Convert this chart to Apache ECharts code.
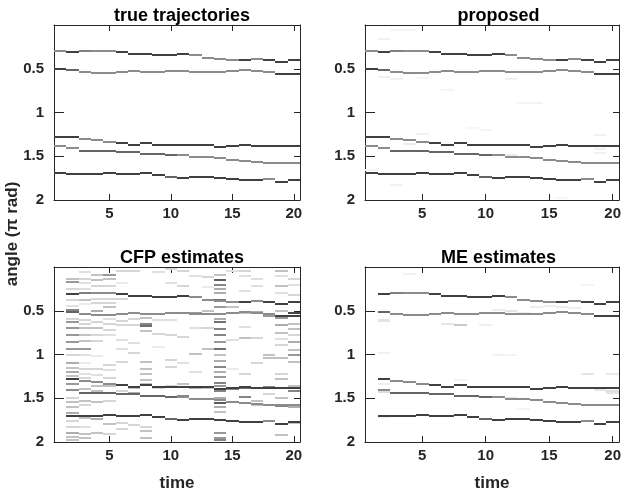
<!DOCTYPE html>
<html style="height: 100%">
<head>
    <meta charset="utf-8">
</head>
<body style="height: 100%; margin: 0; background: #fff">
    <div id="container" style="width: 624px; height: 497px"></div>
    <script type="text/javascript" src="https://cdn.jsdelivr.net/npm/echarts@6.0.0/dist/echarts.min.js"></script>
    <script type="text/javascript">
        // time steps and angle bins (pi rad)
        var timeTicks = [5, 10, 15, 20];
        var binH = 0.018;

        // true trajectories, angle per time step 1..20
        var trajA = [0.292, 0.307, 0.300, 0.289, 0.289, 0.307, 0.330, 0.330, 0.338, 0.338, 0.330, 0.346, 0.369, 0.384, 0.395, 0.403, 0.391, 0.399, 0.418, 0.403];
        var trajB = [0.498, 0.510, 0.533, 0.544, 0.544, 0.533, 0.518, 0.533, 0.533, 0.518, 0.518, 0.533, 0.533, 0.533, 0.520, 0.510, 0.520, 0.536, 0.560, 0.560];
        var trajC = [1.281, 1.274, 1.300, 1.312, 1.331, 1.349, 1.365, 1.349, 1.365, 1.365, 1.365, 1.373, 1.373, 1.388, 1.381, 1.373, 1.377, 1.377, 1.377, 1.377];
        var trajD = [1.384, 1.407, 1.434, 1.434, 1.434, 1.449, 1.449, 1.472, 1.472, 1.480, 1.483, 1.503, 1.503, 1.518, 1.541, 1.552, 1.560, 1.571, 1.578, 1.578];
        var trajE = [1.693, 1.701, 1.701, 1.701, 1.693, 1.701, 1.701, 1.693, 1.712, 1.732, 1.743, 1.732, 1.732, 1.751, 1.762, 1.770, 1.770, 1.762, 1.789, 1.770];

        // cell darkness along each trajectory
        var shadeA = [.45, .75, .5, .45, .45, .75, .75, .75, .75, .75, .75, .45, .45, .45, .45, .75, .45, .75, .75, .75];
        var shadeB = [.75, .6, .45, .45, .45, .45, .45, .45, .45, .45, .45, .45, .45, .45, .45, .45, .45, .45, .75, .75];
        var shadeC = [.75, .75, .45, .45, .45, .75, .75, .75, .75, .75, .75, .75, .75, .75, .75, .75, .75, .75, .75, .75];
        var shadeD = [.45, .45, .6, .6, .6, .6, .6, .6, .6, .6, .45, .45, .45, .45, .45, .45, .45, .45, .45, .45];
        var shadeE = [.75, .75, .75, .75, .75, .75, .75, .75, .75, .6, .75, .75, .75, .75, .75, .75, .75, .45, .75, .75];

        // faint extra cells [time, angle, value]
        var propNoise = [[2, 0.16, .05], [3, 0.06, .04], [4, 0.06, .04], [2, 0.59, .06], [3, 0.62, .05], [5, 0.6, .04],
            [7, 0.74, .04], [12, 0.62, .05], [13, 0.89, .04], [14, 0.89, .05], [10, 1.2, .04], [5, 1.24, .05],
            [6, 1.35, .15], [4, 1.36, .08], [12, 1.48, .08], [19, 1.26, .05], [19, 1.42, .06], [19, 1.46, .05],
            [3, 1.83, .05], [1, 1.66, .04], [16, 1.98, .03], [9, 1.18, .03]];

        var cfpNoise = [
            [2, 0.13, .3], [2, 0.17, .5], [2, 0.25, .2], [2, 0.37, .2], [2, 0.44, .15], [2, 0.49, .6], [2, 0.59, .2], [2, 0.63, .5],
            [2, 0.69, .5], [2, 0.78, .5], [2, 0.85, .5], [2, 0.93, .5], [2, 1.0, .2], [2, 1.09, .4], [2, 1.15, .3], [2, 1.2, .4],
            [2, 1.24, .3], [2, 1.33, .5], [2, 1.4, .5], [2, 1.49, .2], [2, 1.54, .3], [2, 1.6, .3], [2, 1.67, .4], [2, 1.76, .2],
            [2, 1.83, .2], [2, 1.9, .4], [2, 1.94, .3], [2, 1.98, .3],
            [3, 0.06, .15], [3, 0.13, .2], [3, 0.18, .15], [3, 0.25, .15], [3, 0.37, .3], [3, 0.42, .1], [3, 0.6, .2], [3, 0.65, .2],
            [3, 0.69, .3], [3, 0.78, .3], [3, 0.84, .3], [3, 0.93, .5], [3, 1.0, .15], [3, 1.09, .1], [3, 1.16, .2], [3, 1.22, .15],
            [3, 1.27, .2], [3, 1.39, .3], [3, 1.53, .3], [3, 1.57, .2], [3, 1.72, .3], [3, 1.83, .15], [3, 1.91, .3], [3, 1.95, .3],
            [4, 0.09, .3], [4, 0.15, .3], [4, 0.21, .2], [4, 0.36, .2], [4, 0.41, .2], [4, 0.5, .4], [4, 0.63, .2], [4, 0.7, .3],
            [4, 0.77, .2], [4, 0.84, .2], [4, 1.01, .1], [4, 1.16, .2], [4, 1.23, .15], [4, 1.36, .3], [4, 1.41, .3], [4, 1.54, .3],
            [4, 1.74, .4], [4, 1.9, .3],
            [5, 0.09, .5], [5, 0.13, .3], [5, 0.21, .2], [5, 0.36, .2], [5, 0.41, .2], [5, 0.46, .3], [5, 0.59, .15], [5, 0.65, .2],
            [5, 0.72, .2], [5, 0.78, .15], [5, 1.12, .2], [5, 1.18, .15], [5, 1.27, .2], [5, 1.36, .3], [5, 1.53, .2], [5, 1.79, .3], [5, 1.91, .2],
            [6, 0.04, .2], [6, 0.18, .1], [6, 0.36, .2], [6, 0.62, .2], [6, 0.66, .2], [6, 0.83, .15], [6, 0.93, .15], [6, 1.08, .2],
            [6, 1.41, .2], [6, 1.78, .2], [6, 1.85, .2],
            [7, 0.04, .2], [7, 0.59, .2], [7, 0.66, .2], [7, 0.87, .15], [7, 0.98, .2], [7, 1.38, .3], [7, 1.44, .4], [7, 1.8, .2],
            [8, 0.58, .3], [8, 0.65, .6], [8, 0.67, .7], [8, 0.73, .3], [8, 1.08, .3], [8, 1.16, .3], [8, 1.22, .3], [8, 1.29, .3],
            [8, 1.34, .3], [8, 1.83, .2], [8, 1.87, .3], [8, 1.95, .3],
            [9, 0.06, .15], [9, 0.6, .15], [9, 0.76, .2], [9, 0.91, .1], [9, 1.38, .2],
            [10, 0.02, .2], [10, 0.18, .15], [10, 0.6, .15], [10, 0.78, .2], [10, 1.06, .2], [10, 1.14, .2], [10, 1.36, .2], [10, 1.74, .4],
            [11, 0.04, .2], [11, 0.21, .2], [11, 0.8, .2], [11, 1.1, .15], [11, 1.34, .3], [11, 1.47, .6],
            [12, 0.1, .15], [12, 0.52, .5], [12, 0.7, .15], [12, 0.99, .3], [12, 1.2, .15], [12, 1.38, .4], [12, 1.51, .6],
            [13, 0.11, .2], [13, 0.23, .1], [13, 0.5, .3], [13, 0.69, .2], [13, 0.93, .3], [13, 1.38, .3],
            [14, 0.09, .3], [14, 0.15, .8], [14, 0.2, .6], [14, 0.25, .4], [14, 0.29, .4], [14, 0.38, .7], [14, 0.46, .5], [14, 0.54, .8],
            [14, 0.59, .4], [14, 0.63, .7], [14, 0.71, .6], [14, 0.78, .6], [14, 0.85, .5], [14, 0.93, .7], [14, 1.0, .3], [14, 1.07, .4],
            [14, 1.14, .6], [14, 1.2, .4], [14, 1.25, .5], [14, 1.32, .6], [14, 1.36, .5], [14, 1.42, .6], [14, 1.49, .4], [14, 1.55, .8],
            [14, 1.6, .4], [14, 1.65, .3], [14, 1.9, .5], [14, 1.95, .5], [14, 1.98, .6],
            [15, 0.04, .15], [15, 0.45, .3], [15, 0.83, .15], [15, 1.16, .1], [15, 1.39, .6],
            [16, 0.04, .2], [16, 0.1, .15], [16, 0.27, .15], [16, 0.52, .3], [16, 0.68, .15], [16, 0.81, .3], [16, 1.22, .2], [16, 1.38, .7], [16, 1.48, .6],
            [17, 0.14, .15], [17, 0.21, .15], [17, 0.51, .4], [17, 0.81, .2], [17, 1.1, .2], [17, 1.38, .9], [17, 1.53, .3], [17, 1.57, .3],
            [18, 0.56, .5], [18, 1.0, .3], [18, 1.04, .3], [18, 1.37, .6], [18, 1.45, .2],
            [19, 0.04, .3], [19, 0.1, .15], [19, 0.21, .3], [19, 0.29, .15], [19, 0.5, .3], [19, 0.58, .5], [19, 0.66, .4], [19, 0.75, .3],
            [19, 0.82, .15], [19, 0.89, .2], [19, 1.04, .3], [19, 1.22, .2], [19, 1.28, .3], [19, 1.38, .5], [19, 1.49, .3], [19, 1.59, .6], [19, 1.92, .3],
            [20, 0.13, .2], [20, 0.2, .15], [20, 0.32, .2], [20, 0.52, .9], [20, 0.56, .7], [20, 0.65, .3], [20, 0.71, .3], [20, 0.78, .2],
            [20, 0.86, .4], [20, 0.95, .3], [20, 1.0, .5], [20, 1.08, .3], [20, 1.36, .3], [20, 1.42, .6], [20, 1.57, .3], [20, 1.6, .4], [20, 1.78, .3]
        ];

        var meNoise = [[2, 0.6, .12], [2, 0.62, .12], [2, 0.98, .06], [4, 0.08, .06], [7, 0.65, .12], [8, 0.66, .25], [10, 0.66, .08],
            [11, 0.49, .08], [12, 0.5, .12], [12, 0.53, .12], [13, 0.52, .08], [14, 0.45, .08], [15, 0.44, .08], [16, 0.45, .08], [17, 0.47, .08],
            [11, 1.0, .06], [12, 1.0, .05], [18, 1.22, .12], [20, 1.22, .1], [19, 1.4, .12], [20, 1.41, .15], [20, 1.44, .12],
            [2, 1.33, .08], [2, 1.41, .12], [2, 1.43, .15], [11, 1.48, .1], [12, 1.5, .12], [13, 1.62, .05], [2, 1.71, .08],
            [8, 1.29, .05], [18, 0.2, .05]];

        var trajs = [trajA, trajB, trajC, trajD, trajE];
        var shades = [shadeA, shadeB, shadeC, shadeD, shadeE];

        function buildCells(noise, startT, scale) {
            var res = [];
            noise.forEach(function (n) { res.push([n[0], n[1], n[2] * scale]); });
            for (var k = 0; k < trajs.length; k++) {
                for (var t = startT; t <= 20; t++) {
                    res.push([t, trajs[k][t - 1], shades[k][t - 1]]);
                }
            }
            return res;
        }

        var panels = [
            { title: 'true trajectories', left: 54, top: 25, width: 246, data: buildCells([], 1, 1) },
            { title: 'proposed', left: 365, top: 25, width: 257, data: buildCells(propNoise, 1, 1) },
            { title: 'CFP estimates', left: 54, top: 267, width: 246, data: buildCells(cfpNoise, 2, 0.8) },
            { title: 'ME estimates', left: 365, top: 267, width: 257, data: buildCells(meNoise, 2, 0.85) }
        ];

        var axisColor = '#262626';
        var font = 'Liberation Sans, Arial, sans-serif';

        function renderCell(params, api) {
            var t = api.value(0), a = api.value(1), v = api.value(2);
            var p0 = api.coord([t - 0.5, a - binH / 2]);
            var p1 = api.coord([t + 0.5, a + binH / 2]);
            var y0 = Math.round(Math.min(p0[1], p1[1]));
            var h = Math.max(1, Math.round(Math.abs(p1[1] - p0[1])));
            var x0 = Math.round(p0[0]);
            var g = Math.round(255 * (1 - v));
            return {
                type: 'rect',
                shape: { x: x0, y: y0, width: Math.round(p1[0]) - x0, height: h },
                style: { fill: 'rgb(' + g + ',' + g + ',' + g + ')' }
            };
        }

        var grids = [], xAxes = [], yAxes = [], series = [], titles = [];
        panels.forEach(function (p, i) {
            grids.push({ left: p.left, top: p.top, width: p.width, height: 175, containLabel: false });
            titles.push({
                text: p.title, left: p.left + p.width / 2, top: p.top - 23, textAlign: 'center',
                textStyle: { fontFamily: font, fontSize: 18, fontWeight: 'bold', color: '#000' }
            });
            var xBase = {
                type: 'value', gridIndex: i, min: 0.5, max: 20.5,
                splitLine: { show: false },
                axisLine: { show: true, onZero: false, lineStyle: { color: axisColor, width: 1 } }
            };
            xAxes.push(Object.assign({}, xBase, {
                position: 'bottom',
                axisTick: { inside: true, length: 6, customValues: timeTicks, lineStyle: { color: axisColor } },
                axisLabel: {
                    customValues: timeTicks, color: axisColor, fontFamily: font, fontWeight: 'bold', fontSize: 15, margin: 6
                },
                name: i >= 2 ? 'time' : '', nameLocation: 'middle', nameGap: 33,
                nameTextStyle: { fontFamily: font, fontWeight: 'bold', fontSize: 17, color: axisColor }
            }));
            xAxes.push(Object.assign({}, xBase, {
                position: 'top',
                axisTick: { inside: true, length: 6, customValues: timeTicks, lineStyle: { color: axisColor } },
                axisLabel: { show: false }
            }));
            var yBase = {
                type: 'value', gridIndex: i, min: 0, max: 2, interval: 0.5, inverse: true,
                splitLine: { show: false },
                axisLine: { show: true, onZero: false, lineStyle: { color: axisColor, width: 1 } }
            };
            yAxes.push(Object.assign({}, yBase, {
                position: 'left',
                axisTick: { inside: true, length: 10, lineStyle: { color: axisColor } },
                axisLabel: {
                    color: axisColor, fontFamily: font, fontWeight: 'bold', fontSize: 15, margin: 10,
                    formatter: function (v) { return v === 0 ? '' : String(v); }
                }
            }));
            yAxes.push(Object.assign({}, yBase, {
                position: 'right',
                axisTick: { inside: true, length: 6, lineStyle: { color: axisColor } },
                axisLabel: { show: false }
            }));
            series.push({
                type: 'custom', coordinateSystem: 'cartesian2d',
                xAxisIndex: i * 2, yAxisIndex: i * 2, clip: true,
                renderItem: renderCell, data: p.data, silent: true
            });
        });

        var myChart = echarts.init(document.getElementById('container'), null, { renderer: 'canvas' });
        var option = {
            backgroundColor: '#fff',
            animation: false,
            title: titles,
            grid: grids,
            xAxis: xAxes,
            yAxis: yAxes,
            series: series,
            graphic: [{
                type: 'text', x: 12, y: 234, rotation: Math.PI / 2,
                style: {
                    text: 'angle (\u03c0 rad)', fill: axisColor, align: 'center', verticalAlign: 'middle',
                    font: 'bold 17px ' + font
                }
            }]
        };
        myChart.setOption(option);
    </script>
</body>
</html>
